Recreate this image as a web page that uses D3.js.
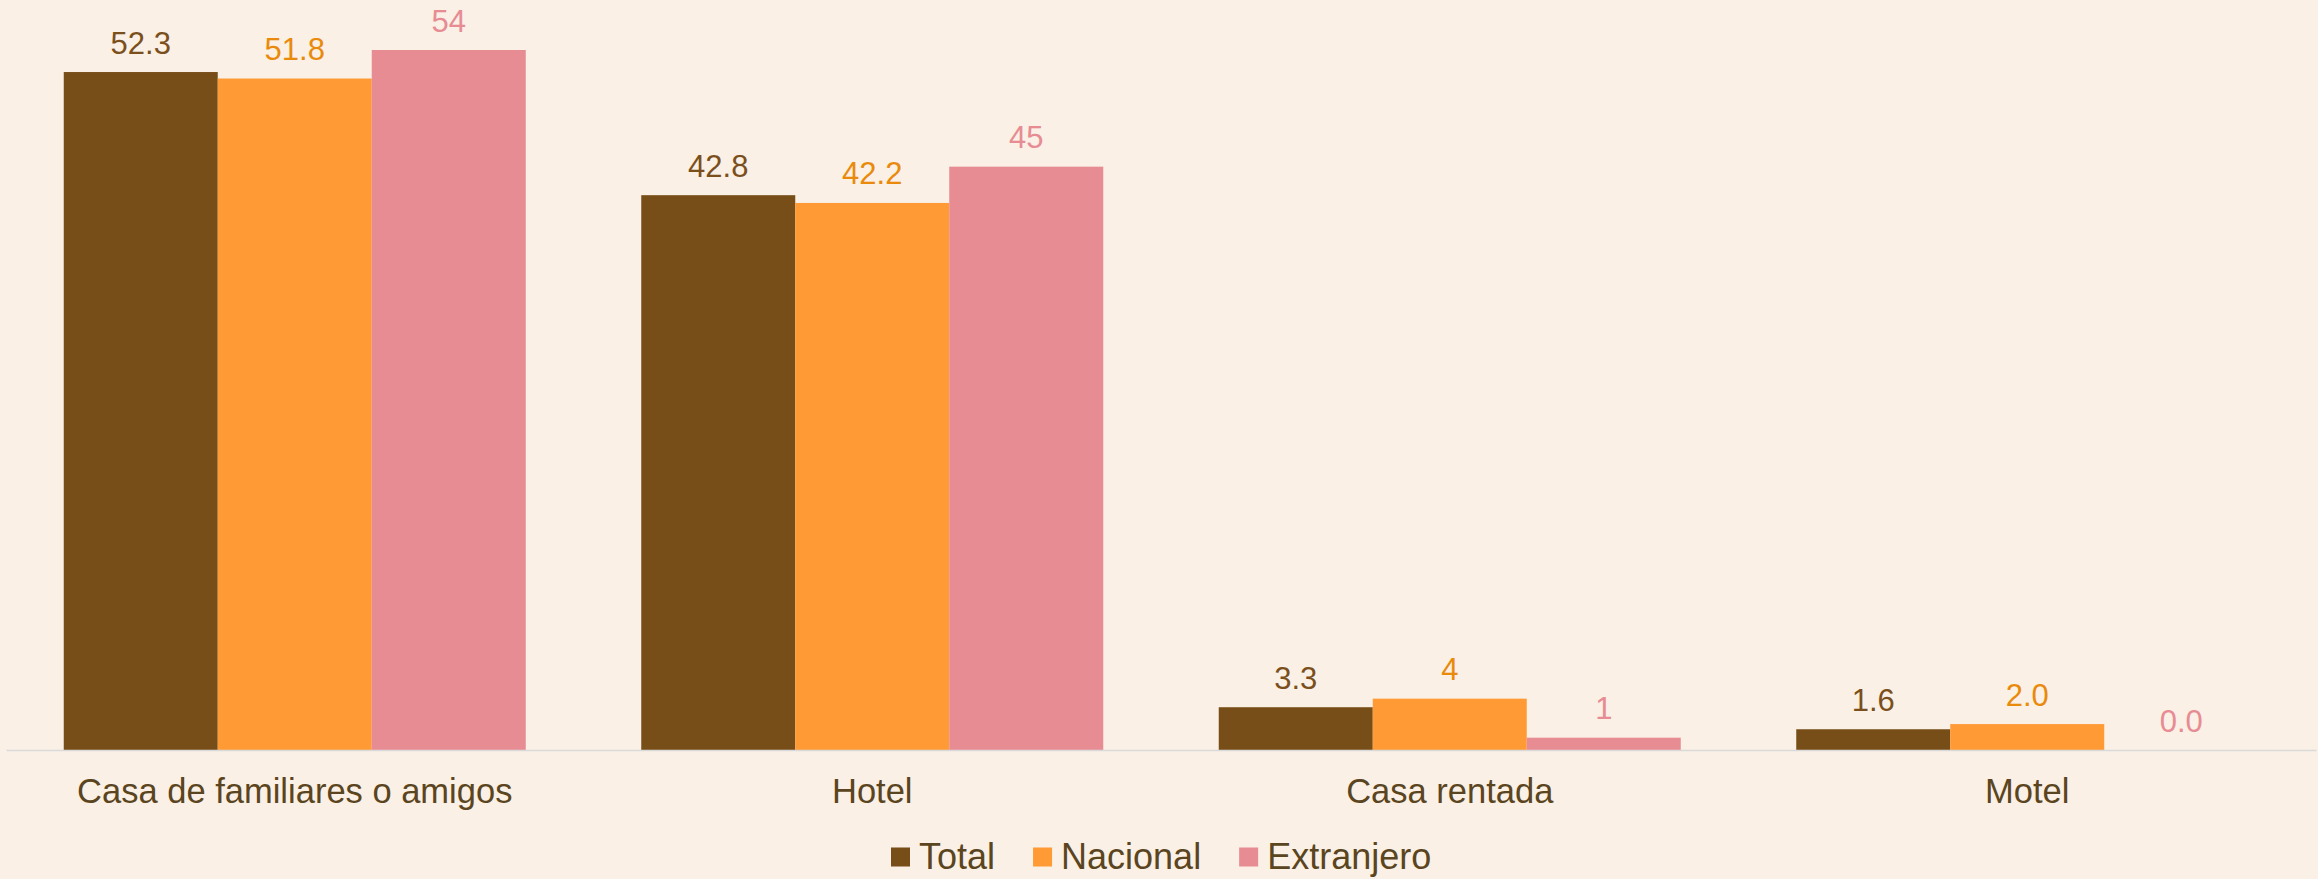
<!DOCTYPE html>
<html>
<head>
<meta charset="utf-8">
<script src="https://cdn.jsdelivr.net/npm/d3@7"></script>
<style>
  html, body { margin: 0; padding: 0; background: #FAF0E6; }
  svg { display: block; font-family: "Liberation Sans", Arial, sans-serif; }
</style>
</head>
<body>
<figure style="margin:0"></figure>
<script>
// data
const categories = ["Casa de familiares o amigos", "Hotel", "Casa rentada", "Motel"];
const seriesNames = ["Total", "Nacional", "Extranjero"];
const totalValues = [52.3, 42.8, 3.3, 1.6];
const nacionalValues = [51.8, 42.2, 3.96, 2.0];
const extranjeroValues = [54, 45, 0.95, 0];
// labels as printed on the chart (formats differ per point)
const totalLabels = ["52.3", "42.8", "3.3", "1.6"];
const nacionalLabels = ["51.8", "42.2", "4", "2.0"];
const extranjeroLabels = ["54", "45", "1", "0.0"];

const seriesColors = ["#774D18", "#FF9A35", "#E78C93"];
const labelColors = ["#7A4F1C", "#E98A0C", "#E78C93"];

function buildChart() {
    const width = 2318, height = 879;
    const left = 6, right = 2316, base = 750, top = 50;

    const svg = d3.select("figure")
        .append("svg")
        .attr("width", width)
        .attr("height", height)
        .attr("viewBox", "0 0 " + width + " " + height);

    svg.append("rect")
        .attr("width", width).attr("height", height)
        .attr("fill", "#FAF0E6");

    // build rows per category
    const valueSets = [totalValues, nacionalValues, extranjeroValues];
    const labelSets = [totalLabels, nacionalLabels, extranjeroLabels];
    const rows = categories.map((c, i) => ({
        cat: c,
        items: seriesNames.map((s, j) => ({ s: s, j: j, v: valueSets[j][i], label: labelSets[j][i] }))
    }));

    const xScale = d3.scaleBand()
        .domain(categories)
        .range([left, right])
        .paddingInner(0.2)
        .paddingOuter(0.1);

    const xInner = d3.scaleBand()
        .domain(seriesNames)
        .range([0, xScale.bandwidth()])
        .padding(0);

    const yScale = d3.scaleLinear()
        .domain([0, 54])
        .range([base, top]);

    const groups = svg.selectAll("g.group")
        .data(rows)
        .enter()
        .append("g")
        .attr("class", "group")
        .attr("transform", d => "translate(" + xScale(d.cat) + ",0)");

    const bars = groups.selectAll("g.bar")
        .data(d => d.items)
        .enter()
        .append("g")
        .attr("class", "bar");

    bars.append("rect")
        .attr("x", d => xInner(d.s))
        .attr("y", d => yScale(d.v))
        .attr("width", xInner.bandwidth())
        .attr("height", d => yScale(0) - yScale(d.v))
        .attr("fill", d => seriesColors[d.j]);

    bars.append("text")
        .text(d => d.label)
        .attr("x", d => xInner(d.s) + xInner.bandwidth() / 2)
        .attr("y", d => yScale(d.v) - 18.5)
        .attr("text-anchor", "middle")
        .attr("font-size", 31)
        .attr("fill", d => labelColors[d.j]);

    // x axis
    const xAxis = svg.append("g")
        .attr("transform", "translate(0," + base + ")")
        .call(d3.axisBottom(xScale).tickSize(0).tickSizeOuter(0));
    xAxis.select(".domain")
        .attr("stroke", "#D9D9D9")
        .attr("stroke-width", 1.5);
    xAxis.selectAll("text")
        .attr("dy", null)
        .attr("y", 52.5)
        .attr("font-size", 34.5)
        .attr("font-family", "'Liberation Sans', Arial, sans-serif")
        .attr("fill", "#5A4520");

    // legend
    const legend = svg.append("g").attr("transform", "translate(891,0)");
    const sq = 19, gapText = 9, gapItem = 38;
    let xPos = 0;
    seriesNames.forEach((s, j) => {
        const item = legend.append("g").attr("transform", "translate(" + xPos + ",0)");
        item.append("rect")
            .attr("x", 0).attr("y", 847.5)
            .attr("width", sq).attr("height", sq)
            .attr("fill", seriesColors[j]);
        const t = item.append("text")
            .text(s)
            .attr("x", sq + gapText)
            .attr("y", 868.5)
            .attr("font-size", 36)
            .attr("fill", "#5A4520");
        xPos += sq + gapText + t.node().getComputedTextLength() + gapItem;
    });
}

buildChart();
</script>
</body>
</html>
